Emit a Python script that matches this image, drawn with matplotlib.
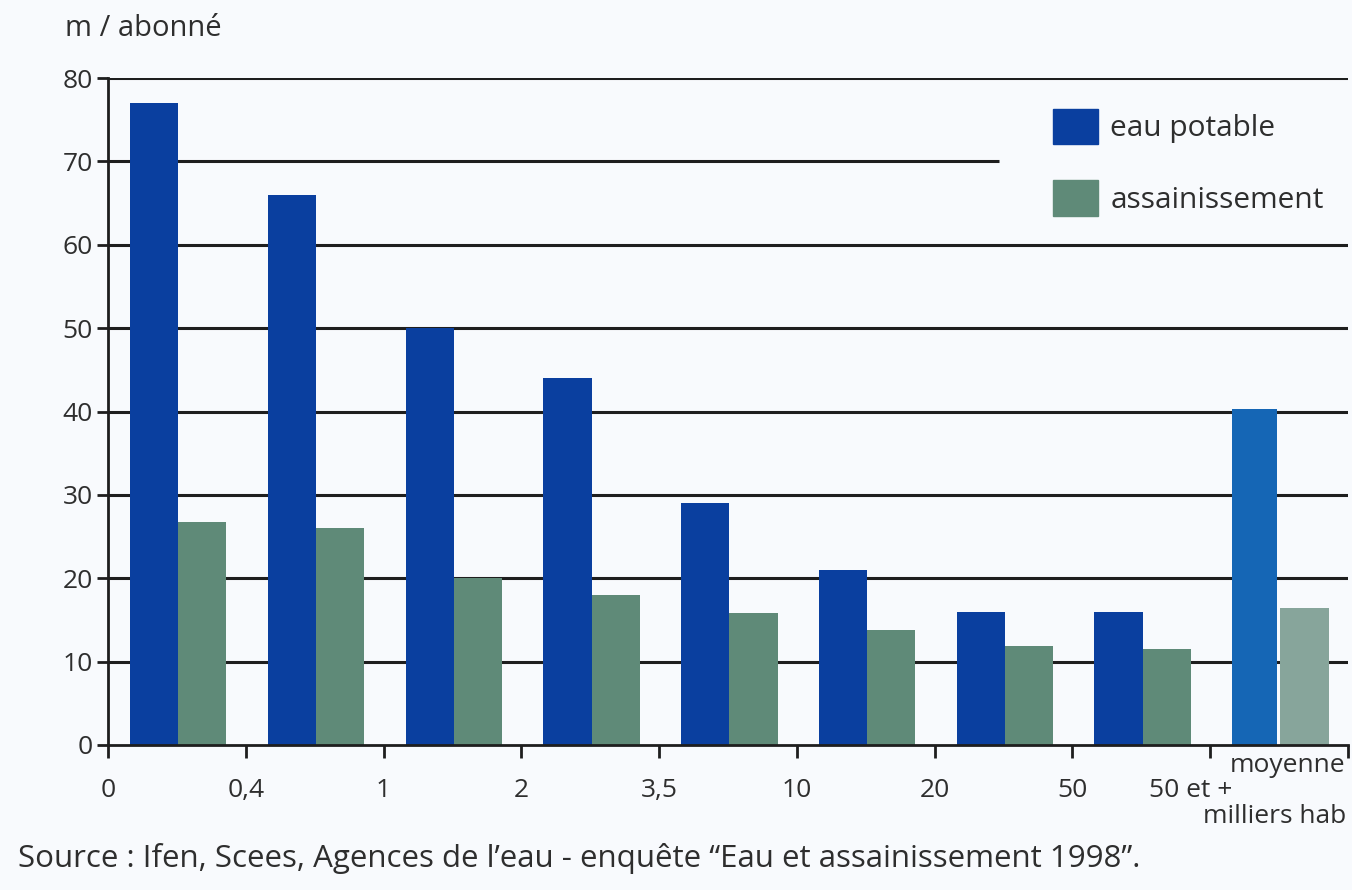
import numpy as np
import matplotlib.pyplot as plt
from matplotlib.patches import Patch

# consommation moyenne par abonné, selon la taille de la commune
classes = ['0', '0,4', '1', '2', '3,5', '10', '20', '50', '50 et +']
eau_potable = [77, 66, 50, 44, 29, 21, 16, 16]
assainissement = [26.7, 26, 20, 18, 15.8, 13.8, 11.9, 11.5]
moy_eau = 40.3
moy_assain = 16.4

bleu = '#0a3f9f'
vert = '#5f8a78'
bleu_moy = '#1566b5'
vert_moy = '#87a59b'
fond = '#f8fafd'
gris = '#2e2e2e'
police = ['Open Sans', 'DejaVu Sans']

fig = plt.figure(figsize=(13.52, 8.9), dpi=100, facecolor=fond)
ax = fig.add_axes([108/1352, 1 - 745/890, 1240/1352, 667/890])
ax.set_facecolor(fond)

n = len(eau_potable)
x = np.arange(n)
w = 0.35
off = 0.16

# lignes horizontales (celle de 70 s'arrête avant la légende)
for v in range(10, 90, 10):
    xmax = 6.47 if v == 70 else 9
    ax.hlines(v, 0, xmax, color='#1e1e1e', lw=2.2, zorder=1)

ax.bar(x + off, eau_potable, w, align='edge', color=bleu, zorder=2)
ax.bar(x + off + w, assainissement, w, align='edge', color=vert, zorder=2)
ax.bar(n + off, moy_eau, w * 0.93, align='edge', color=bleu_moy, zorder=2)
ax.bar(n + off + w, moy_assain, w, align='edge', color=vert_moy, zorder=2)

ax.set_xlim(0, 9)
ax.set_ylim(0, 80)
for s in ['top', 'right']:
    ax.spines[s].set_visible(False)
for s in ['left', 'bottom']:
    ax.spines[s].set_linewidth(2)
    ax.spines[s].set_color('#1e1e1e')

ax.set_yticks(range(0, 90, 10))
ax.set_yticklabels([str(v) for v in range(0, 90, 10)], fontsize=19,
                   family=police, color=gris)
ax.tick_params(axis='y', direction='out', length=8, width=2, color='#1e1e1e', pad=3)

ax.set_xticks(range(0, 10))
ax.set_xticklabels([])
ax.tick_params(axis='x', direction='out', length=9, width=2, color='#1e1e1e')

for i, lab in enumerate(classes):
    xi = i if i < 8 else i - 0.14
    ax.text(xi, -5.5, lab, ha='center', va='center', fontsize=19,
            family=police, color=gris)
ax.text(8.98, -2.5, 'moyenne', ha='right', va='center', fontsize=19,
        family=police, color=gris)
ax.text(8.99, -8.6, 'milliers hab', ha='right', va='center', fontsize=19,
        family=police, color=gris)

fig.text(65/1352, 1 - 28/890, 'm / abonné', ha='left', va='center', fontsize=21,
         family=police, color=gris)

leg = ax.legend(handles=[Patch(color=bleu, label='eau potable'),
                         Patch(color=vert, label='assainissement')],
                loc='upper left', bbox_to_anchor=((1026 - 108) / 1240, 0.994),
                frameon=False, handlelength=1.5, handleheight=1.45,
                labelspacing=1.2, handletextpad=0.42,
                prop={'family': police, 'size': 21.5})
for t in leg.get_texts():
    t.set_color(gris)

fig.text(18/1352, 1 - 859/890,
         'Source : Ifen, Scees, Agences de l\u2019eau - enquête \u201cEau et assainissement 1998\u201d.',
         ha='left', va='center', fontsize=22.5, family=police, color=gris)

fig.savefig('out.png', dpi=100, facecolor=fond)
